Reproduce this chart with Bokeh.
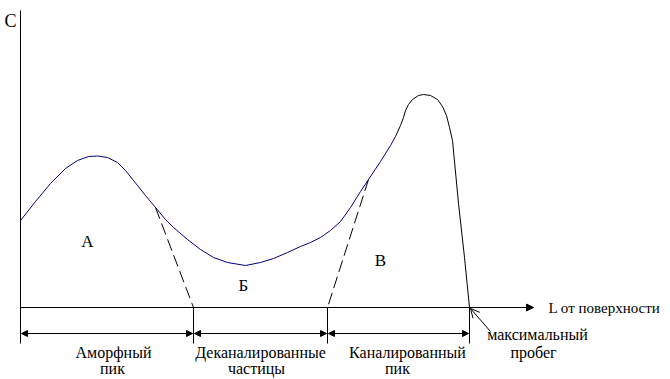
from bokeh.plotting import figure
from bokeh.models import Range1d, Arrow, NormalHead, OpenHead
from bokeh.core.properties import value
from bokeh.embed import file_html
from bokeh.resources import INLINE

# Channeled/amorphous concentration profile (schematic), in picture units
blue_x = [20, 35, 50, 65, 77, 88, 97, 107, 117, 125, 133, 145, 155, 165, 173, 187, 200, 213, 227, 245,
          260, 273, 287, 300, 310, 320, 330, 340, 350, 360, 368, 380, 390, 395]
blue_y = [220, 201, 183, 168, 160, 156, 155.5, 157, 162, 170, 180, 195, 207, 219, 227, 239, 249, 257, 262, 265,
          262, 258, 252, 246, 242, 237, 230, 221, 207, 191, 179, 161, 145, 136]
peak_x = [395, 400, 403, 405, 408, 412, 418, 423, 430, 437, 442, 446, 449, 452, 458, 464, 469]
peak_y = [136, 125, 117, 110, 104, 99, 95, 94, 95, 99, 106, 115, 127, 140, 203, 257, 307]

dash_x = [[155, 193], [368, 327]]
dash_y = [[207, 307], [179, 307]]

axis_x0, axis_y0, axis_xend, axis_ytop, axis_ybot = 20, 307, 533, 10, 343
bounds = [20, 193, 327, 469]
dim_y = 333

region_labels = ["А", "Б", "В"]
region_x = [87, 243, 380]
region_y = [241, 285, 260]

bottom_labels = ["Аморфный", "пик", "Деканалированные", "частицы", "Каналированный", "пик", "максимальный", "пробег"]
bottom_x = [113, 112, 260, 256, 407, 397, 537, 533]
bottom_y = [352, 368, 352, 368, 352, 368, 334, 352]

p = figure(width=670, height=379, output_backend="svg", toolbar_location=None,
           x_range=Range1d(0, 670), y_range=Range1d(379, 0),
           x_axis_type=None, y_axis_type=None, min_border=0)
p.outline_line_color = None
p.grid.visible = False

font = value("Liberation Serif")

# axes
p.line([axis_x0, axis_x0], [axis_ytop, axis_ybot], line_color="black", line_width=1)
p.add_layout(Arrow(end=NormalHead(size=7, fill_color="black", line_color="black", line_width=1),
                   x_start=axis_x0, y_start=axis_y0, x_end=axis_xend, y_end=axis_y0,
                   line_color="black", line_width=1))

# vertical boundaries
for bx in bounds[1:]:
    p.line([bx, bx], [axis_y0, axis_ybot], line_color="black", line_width=1)

# dimension lines
for a, b in zip(bounds[:-1], bounds[1:]):
    p.add_layout(Arrow(start=NormalHead(size=6, fill_color="black", line_color="black"),
                       end=NormalHead(size=6, fill_color="black", line_color="black"),
                       x_start=a + 1, y_start=dim_y, x_end=b - 1, y_end=dim_y,
                       line_color="black", line_width=1))

# curves
p.line(blue_x, blue_y, line_color="#000080", line_width=1)
p.line(peak_x, peak_y, line_color="black", line_width=1)
p.multi_line(dash_x, dash_y, line_color="black", line_width=1, line_dash="12 5")

# arrow to maximal range
p.add_layout(Arrow(end=OpenHead(size=9, line_color="black", line_width=1),
                   x_start=490, y_start=331, x_end=470, y_end=308,
                   line_color="black", line_width=1))

# texts
p.text(x=[10], y=[20], text=["C"], text_font=font, text_font_size="18px",
       text_align="center", text_baseline="middle", text_color="black")
p.text(x=region_x, y=region_y, text=region_labels, text_font=font, text_font_size="17px",
       text_align="center", text_baseline="middle", text_color="black")
p.text(x=bottom_x, y=bottom_y, text=bottom_labels, text_font=font, text_font_size="16px",
       text_align="center", text_baseline="middle", text_color="black")
p.text(x=[548], y=[307], text=["L от поверхности"], text_font=font, text_font_size="15px",
       text_align="left", text_baseline="middle", text_color="black")

open("out.html", "w").write(file_html(p, INLINE))
